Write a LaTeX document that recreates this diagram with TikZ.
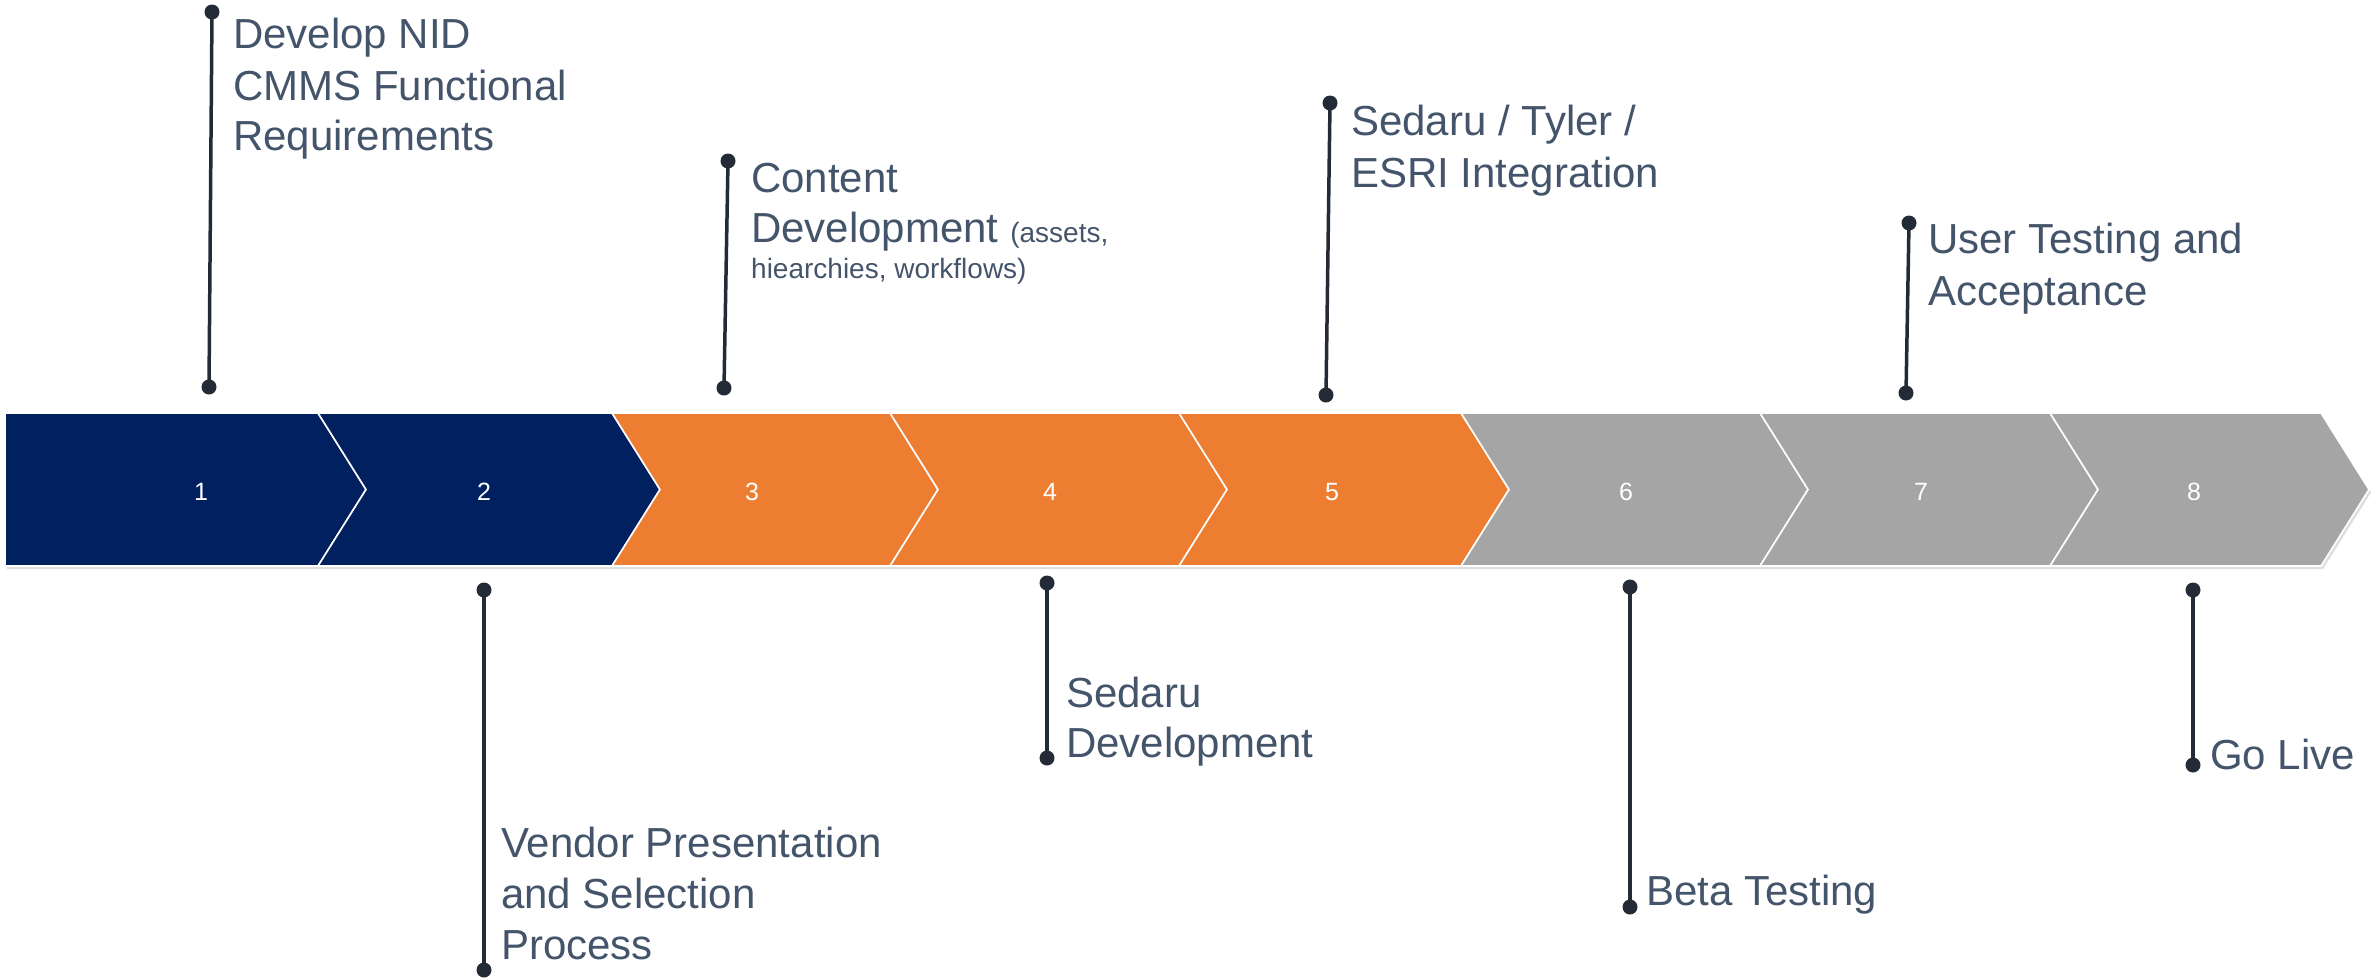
\documentclass[tikz,border=0pt]{standalone}
\usepackage{fontspec}
\setmainfont{Liberation Sans}
\definecolor{navy}{HTML}{002060}
\definecolor{orng}{HTML}{ED7D31}
\definecolor{gry}{HTML}{A5A5A5}
\definecolor{txt}{HTML}{44546A}
\definecolor{ink}{HTML}{232B37}
\begin{document}
\begin{tikzpicture}[x=1pt,y=-1pt,
  chevbox/.style={draw=white,line width=1.6pt,line join=miter},
  shadowbox/.style={fill=black!13},
  num/.style={text=white,font=\fontsize{25}{30}\selectfont,anchor=base,inner sep=0pt},
  lbl/.style={text=txt,font=\fontsize{42}{51}\selectfont,anchor=base west,inner sep=0pt},
  dot/.style={circle,fill=ink,minimum size=15pt,inner sep=0pt},
  stem/.style={draw=ink,line width=3.5pt}]
\useasboundingbox (0,0) rectangle (2374,978);
% shadows
\fill[shadowbox] (7,416) -- (320,416) -- (369,492.5) -- (320,569) -- (7,569) -- cycle;
\foreach \a/\b in {318/612,612/890,890/1179,1179/1461,1461/1760,1760/2050,2050/2321}{
  \fill[shadowbox] (\a+2,416) -- (\b+2,416) -- (\b+50,492.5) -- (\b+2,569) -- (\a+2,569) -- (\a+50,492.5) -- cycle;
}
% chevrons
\path[chevbox,fill=navy] (5,413) -- (318,413) -- (366,489.5) -- (318,566) -- (5,566) -- cycle;
\path[chevbox,fill=navy] (318,413) -- (612,413) -- (660,489.5) -- (612,566) -- (318,566) -- (366,489.5) -- cycle;
\path[chevbox,fill=orng] (612,413) -- (890,413) -- (938,489.5) -- (890,566) -- (612,566) -- (660,489.5) -- cycle;
\path[chevbox,fill=orng] (890,413) -- (1179,413) -- (1227,489.5) -- (1179,566) -- (890,566) -- (938,489.5) -- cycle;
\path[chevbox,fill=orng] (1179,413) -- (1461,413) -- (1509,489.5) -- (1461,566) -- (1179,566) -- (1227,489.5) -- cycle;
\path[chevbox,fill=gry] (1461,413) -- (1760,413) -- (1808,489.5) -- (1760,566) -- (1461,566) -- (1509,489.5) -- cycle;
\path[chevbox,fill=gry] (1760,413) -- (2050,413) -- (2098,489.5) -- (2050,566) -- (1760,566) -- (1808,489.5) -- cycle;
\path[chevbox,fill=gry] (2050,413) -- (2321,413) -- (2369,489.5) -- (2321,566) -- (2050,566) -- (2098,489.5) -- cycle;
% numbers
\node[num] (n1) at (201,500) {1};
\node[num] (n2) at (484,500) {2};
\node[num] (n3) at (752,500) {3};
\node[num] (n4) at (1050,500) {4};
\node[num] (n5) at (1332,500) {5};
\node[num] (n6) at (1626,500) {6};
\node[num] (n7) at (1921,500) {7};
\node[num] (n8) at (2194,500) {8};
% dots
\node[dot] (a1) at (212,12) {};   \node[dot] (b1) at (209,387) {};
\node[dot] (a2) at (484,590) {};  \node[dot] (b2) at (484,970) {};
\node[dot] (a3) at (728,161) {};  \node[dot] (b3) at (724,388) {};
\node[dot] (a4) at (1047,583) {}; \node[dot] (b4) at (1047,758) {};
\node[dot] (a5) at (1330,103) {}; \node[dot] (b5) at (1326,395) {};
\node[dot] (a6) at (1630,587) {}; \node[dot] (b6) at (1630,907) {};
\node[dot] (a7) at (1909,223) {}; \node[dot] (b7) at (1906,393) {};
\node[dot] (a8) at (2193,590) {}; \node[dot] (b8) at (2193,765) {};
\foreach \i in {1,...,8}{ \draw[stem] (a\i.center) -- (b\i.center); }
% labels
\node[lbl] (l1a) at (233,48) {Develop NID};
\node[lbl] (l1b) at (233,100) {CMMS Functional};
\node[lbl] (l1c) at (233,150) {Requirements};
\node[lbl] (l3a) at (751,192) {Content};
\node[lbl] (l3b) at (751,242) {Development {\fontsize{28}{34}\selectfont(assets,}};
\node[lbl,font=\fontsize{28}{34}\selectfont] (l3c) at (751,278) {hiearchies, workflows)};
\node[lbl] (l5a) at (1351,135) {Sedaru / Tyler /};
\node[lbl] (l5b) at (1351,187) {ESRI Integration};
\node[lbl] (l7a) at (1928,253) {User Testing and};
\node[lbl] (l7b) at (1928,305) {Acceptance};
\node[lbl] (l2a) at (501,857) {Vendor Presentation};
\node[lbl] (l2b) at (501,908) {and Selection};
\node[lbl] (l2c) at (501,959) {Process};
\node[lbl] (l4a) at (1066,707) {Sedaru};
\node[lbl] (l4b) at (1066,757) {Development};
\node[lbl] (l6a) at (1646,905) {Beta Testing};
\node[lbl] (l8a) at (2210,769) {Go Live};
\end{tikzpicture}
\end{document}
